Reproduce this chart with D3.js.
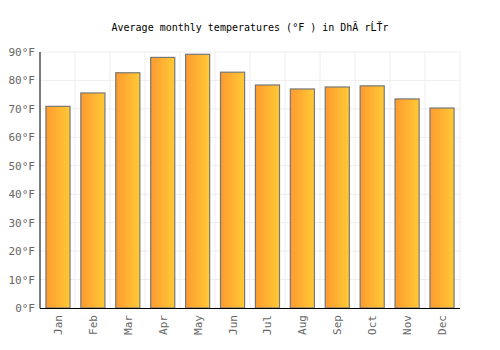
<!DOCTYPE html>
<html>
<head>
<meta charset="utf-8">
<script src="https://cdn.jsdelivr.net/npm/d3@7"></script>
<style>
  body { margin: 0; background: #fff; }
  text { font-family: "DejaVu Sans Mono", monospace; }
</style>
</head>
<body>
<div id="Canvas"></div>
<script>
// data
let months = ["Jan","Feb","Mar","Apr","May","Jun","Jul","Aug","Sep","Oct","Nov","Dec"]
let temps = [70.9, 75.6, 82.7, 88.1, 89.2, 82.9, 78.4, 77.0, 77.7, 78.1, 73.5, 70.3]
let yTicks = [0,10,20,30,40,50,60,70,80,90]

let svg = d3.select("#Canvas")
    .append("svg")
    .attr("width", 500)
    .attr("height", 350)

let plotLeft = 40, plotRight = 460, plotTop = 52, plotBottom = 308

let xScale = d3.scaleBand()
    .domain(months)
    .range([plotLeft, plotRight])
    .paddingInner(0.31)
    .paddingOuter(0.17)
let yScale = d3.scaleLinear()
    .domain([0, 90])
    .range([plotBottom, plotTop])

// gradient
let grad = svg.append("defs").append("linearGradient")
    .attr("id", "barGrad")
    .attr("x1", "0%").attr("x2", "100%")
    .attr("y1", "0%").attr("y2", "0%")
grad.append("stop").attr("offset", "0%").attr("stop-color", "#ff9a30")
grad.append("stop").attr("offset", "100%").attr("stop-color", "#ffca35")

// grid
let step = (plotRight - plotLeft) / months.length
svg.selectAll(".hgrid")
    .data(yTicks)
    .enter()
    .append("line")
    .attr("x1", plotLeft).attr("x2", plotRight)
    .attr("y1", d => yScale(d)).attr("y2", d => yScale(d))
    .attr("stroke", "#eeeeee")
svg.selectAll(".vgrid")
    .data(d3.range(months.length + 1))
    .enter()
    .append("line")
    .attr("x1", i => plotLeft + i * step).attr("x2", i => plotLeft + i * step)
    .attr("y1", plotTop).attr("y2", plotBottom)
    .attr("stroke", "#eeeeee")

// bars
svg.selectAll("rect.bar")
    .data(months)
    .enter()
    .append("rect")
    .attr("class", "bar")
    .attr("x", d => xScale(d))
    .attr("y", (d, i) => yScale(temps[i]))
    .attr("width", xScale.bandwidth())
    .attr("height", (d, i) => plotBottom - yScale(temps[i]))
    .attr("fill", "url(#barGrad)")
    .attr("stroke", "#777")
    .attr("stroke-width", 1.2)

// axes
svg.append("line")
    .attr("x1", plotLeft).attr("x2", plotLeft)
    .attr("y1", plotTop).attr("y2", plotBottom + 0.5)
    .attr("stroke", "#000")
svg.append("line")
    .attr("x1", plotLeft).attr("x2", plotRight)
    .attr("y1", plotBottom + 0.5).attr("y2", plotBottom + 0.5)
    .attr("stroke", "#000")

svg.selectAll(".ylab")
    .data(yTicks)
    .enter()
    .append("text")
    .attr("x", plotLeft - 5)
    .attr("y", d => yScale(d) + 4)
    .attr("text-anchor", "end")
    .attr("font-size", 11)
    .attr("fill", "#666")
    .text(d => d + "°F")

svg.selectAll(".xlab")
    .data(months)
    .enter()
    .append("text")
    .attr("transform", d => "translate(" + (xScale(d) + xScale.bandwidth() / 2 + 4) + "," + (plotBottom + 7) + ") rotate(-90)")
    .attr("text-anchor", "end")
    .attr("font-size", 11)
    .attr("fill", "#666")
    .text(d => d)

// title
svg.append("text")
    .attr("x", 250)
    .attr("y", 31)
    .attr("text-anchor", "middle")
    .attr("font-size", 10)
    .attr("fill", "#000")
    .text("Average monthly temperatures (°F ) in DhĂ rĹŤr")
</script>
</body>
</html>
